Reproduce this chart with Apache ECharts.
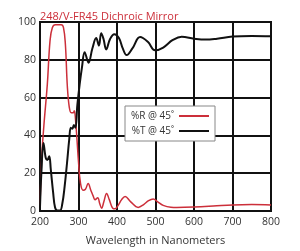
<!DOCTYPE html>
<html>
<head>
<meta charset="utf-8">
<script src="https://cdn.jsdelivr.net/npm/echarts@6/dist/echarts.min.js"></script>
<style>html,body{margin:0;padding:0;background:#fff}#c{width:300px;height:251px}</style>
</head>
<body>
<div id="c"></div>
<script>
const titleText = '248/V-FR45 Dichroic Mirror';
const xName = 'Wavelength in Nanometers';
const xTicks = [200, 300, 400, 500, 600, 700, 800];
const yTicks = [0, 20, 40, 60, 80, 100];
const seriesNames = ['%R @ 45\u02da', '%T @ 45\u02da'];

const rWave = [200,205,210,219,226,232,240,255,261,266,271,276,281,286,289,292,296,300,305,312,318,325,332,338,343,350,355,360,366,373,380,389,395,403,412,421,435,455,470,482,494,505,520,540,555,600,650,700,750,800];
const rVal  = [3,30,45,67,90,97,98.5,98.5,97,88,66,55,52,52,53,49,38,26,15,11,11.5,14.5,11,8,6,7,4,1.5,5,9.3,6,1.5,1.2,3,6,7.7,5,1.9,3.5,5.5,6.4,5,3,2,1.9,2.1,2.6,3.2,3.4,3.2];

const tWave = [200,204,209,215,219,224,228,234,239,245,252,258,264,270,276,280,284,288,292,297,303,309,316,326,336,346,353,359,365,372,382,393,405,415,425,440,460,480,499,520,545,568,600,630,660,700,750,800];
const tVal  = [2,22,36,28,27,29,22,10,2,0.3,0.3,4,13,25,38,44,43.5,45.5,44,56,67,76,84,78.5,86,91.5,87.5,94,91,85.5,91,93.5,91.5,86,82.5,86,92,89.5,85,86.5,90.5,92.2,91.2,90.7,91.2,92.3,92.6,92.4];

const rData = rWave.map((w, i) => [w, rVal[i]]);
const tData = tWave.map((w, i) => [w, tVal[i]]);

const chart = echarts.init(document.getElementById('c'), null, {renderer: 'canvas'});
const fontFam = '"Open Sans", "Liberation Sans", sans-serif';
chart.setOption({
  animation: false,
  backgroundColor: '#fff',
  title: {
    text: titleText, left: 35, top: 6,
    textStyle: {color: '#cc2f3a', fontSize: 11, fontWeight: 'normal', fontFamily: fontFam}
  },
  grid: {left: 40, right: 29, top: 22, bottom: 38, show: true, borderColor: '#111', borderWidth: 2},
  legend: {
    orient: 'vertical', left: 125, top: 106, align: 'right',
    backgroundColor: '#fff', borderColor: '#888', borderWidth: 1,
    padding: [5, 6, 5, 6], itemGap: 5, itemWidth: 30, itemHeight: 2,
    textStyle: {color: '#333', fontSize: 10, fontFamily: fontFam, width: 56},
    data: [
      {name: seriesNames[0], icon: 'rect', itemStyle: {color: '#cc2f3a'}},
      {name: seriesNames[1], icon: 'rect', itemStyle: {color: '#111'}}
    ]
  },
  xAxis: {
    type: 'value', min: 200, max: 800, interval: 100,
    name: xName, nameLocation: 'middle', nameGap: 24,
    nameTextStyle: {color: '#333', fontSize: 11, fontFamily: fontFam},
    axisLine: {show: true, lineStyle: {color: '#111', width: 2}},
    axisTick: {show: false},
    axisLabel: {color: '#333', fontSize: 10.5, fontFamily: fontFam, margin: 6},
    splitLine: {show: true, lineStyle: {color: '#111', width: 2}}
  },
  yAxis: {
    type: 'value', min: 0, max: 100, interval: 20,
    axisLine: {show: true, lineStyle: {color: '#111', width: 2}},
    axisTick: {show: false},
    axisLabel: {color: '#333', fontSize: 10.5, fontFamily: fontFam, margin: 4},
    splitLine: {show: true, lineStyle: {color: '#111', width: 2}}
  },
  series: [
    {name: seriesNames[0], type: 'line', data: rData, smooth: 0.4, symbol: 'none',
     lineStyle: {color: '#cc2f3a', width: 1.5}, itemStyle: {color: '#cc2f3a'}, z: 3},
    {name: seriesNames[1], type: 'line', data: tData, smooth: 0.4, symbol: 'none',
     lineStyle: {color: '#111', width: 2}, itemStyle: {color: '#111'}, z: 4}
  ]
});
</script>
</body>
</html>
